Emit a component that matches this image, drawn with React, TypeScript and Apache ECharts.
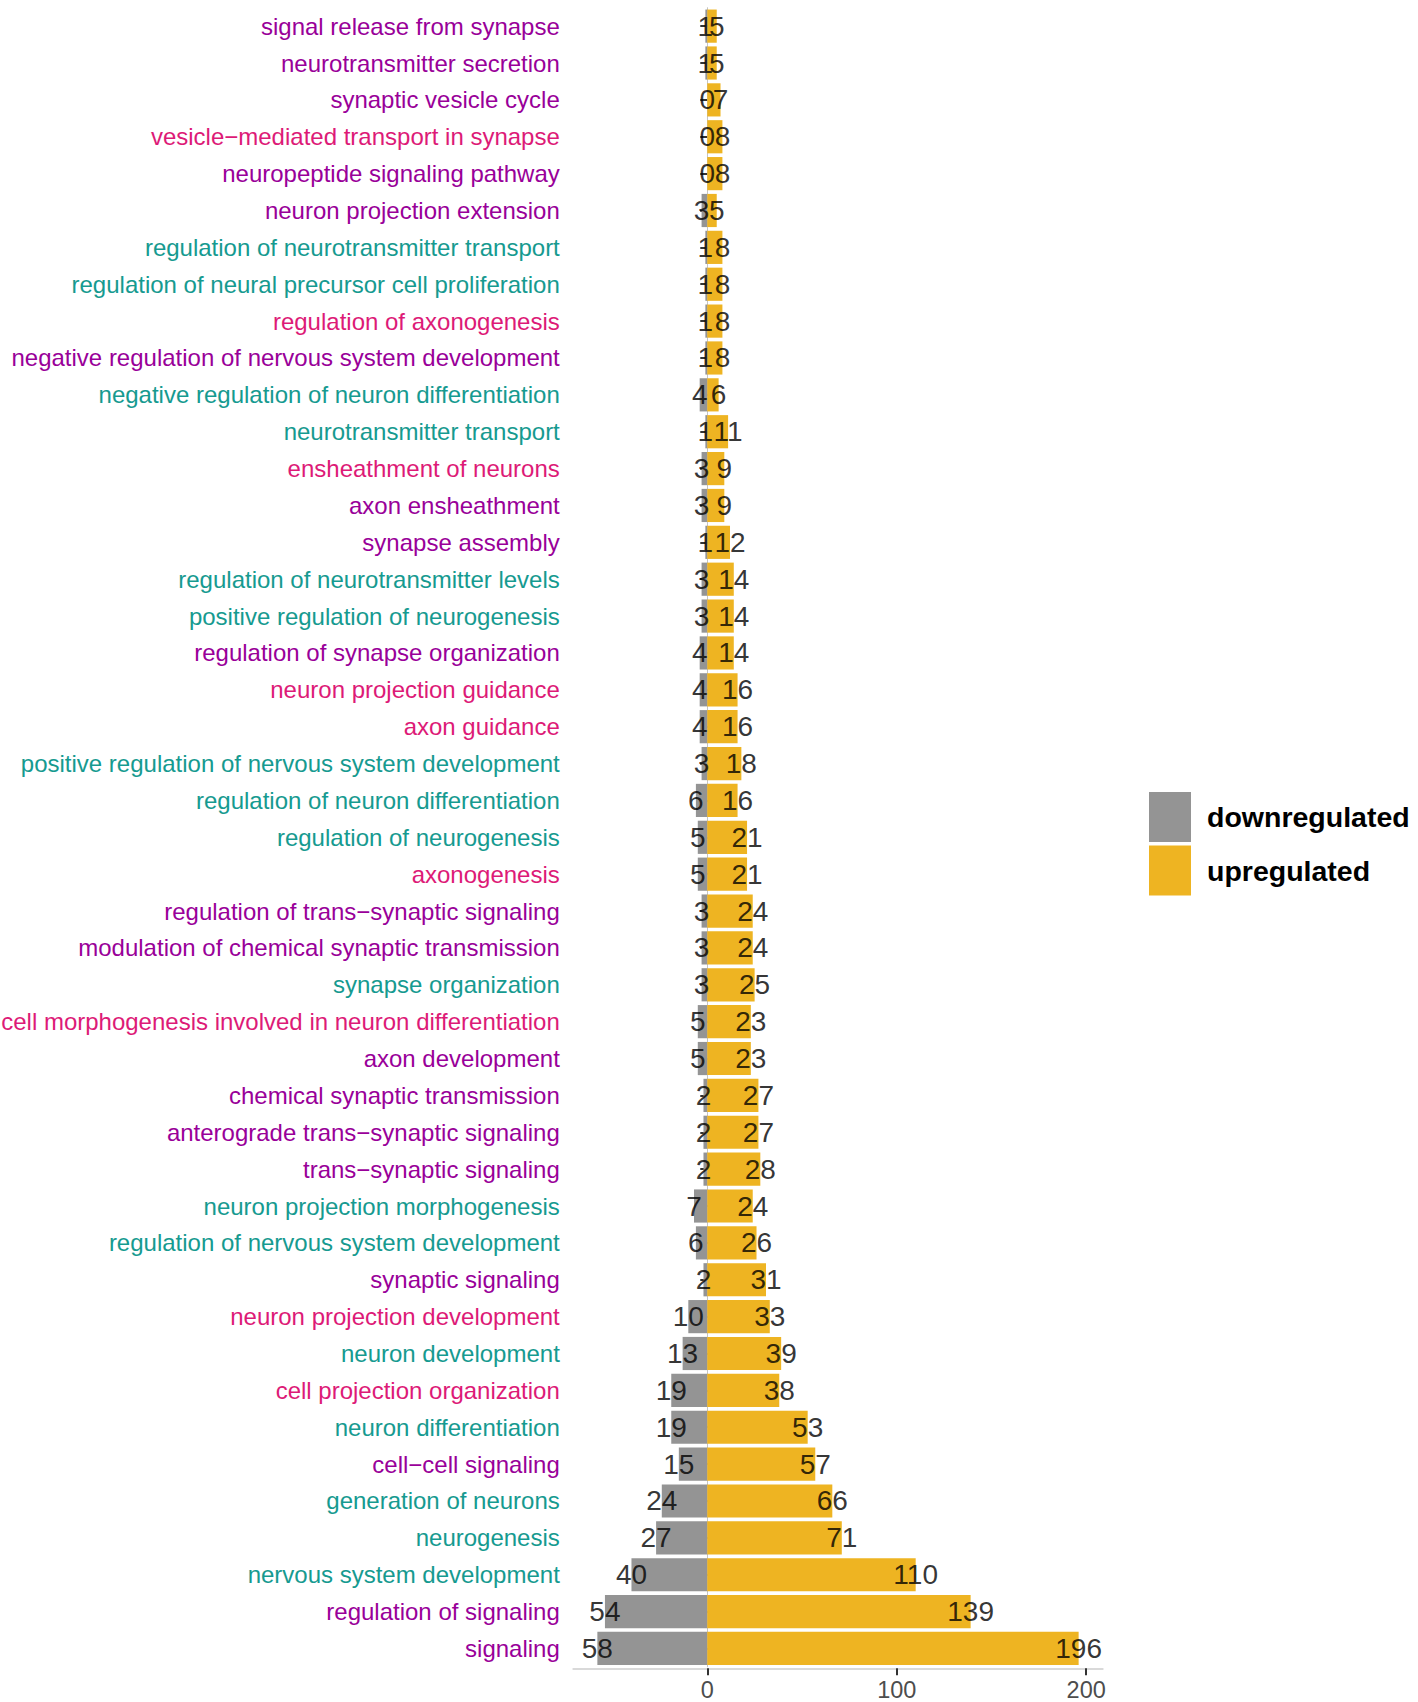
import React, { useEffect, useRef } from "react";
import * as echarts from "echarts";

const categories = [
  "signal release from synapse",
  "neurotransmitter secretion",
  "synaptic vesicle cycle",
  "vesicle−mediated transport in synapse",
  "neuropeptide signaling pathway",
  "neuron projection extension",
  "regulation of neurotransmitter transport",
  "regulation of neural precursor cell proliferation",
  "regulation of axonogenesis",
  "negative regulation of nervous system development",
  "negative regulation of neuron differentiation",
  "neurotransmitter transport",
  "ensheathment of neurons",
  "axon ensheathment",
  "synapse assembly",
  "regulation of neurotransmitter levels",
  "positive regulation of neurogenesis",
  "regulation of synapse organization",
  "neuron projection guidance",
  "axon guidance",
  "positive regulation of nervous system development",
  "regulation of neuron differentiation",
  "regulation of neurogenesis",
  "axonogenesis",
  "regulation of trans−synaptic signaling",
  "modulation of chemical synaptic transmission",
  "synapse organization",
  "cell morphogenesis involved in neuron differentiation",
  "axon development",
  "chemical synaptic transmission",
  "anterograde trans−synaptic signaling",
  "trans−synaptic signaling",
  "neuron projection morphogenesis",
  "regulation of nervous system development",
  "synaptic signaling",
  "neuron projection development",
  "neuron development",
  "cell projection organization",
  "neuron differentiation",
  "cell−cell signaling",
  "generation of neurons",
  "neurogenesis",
  "nervous system development",
  "regulation of signaling",
  "signaling",
];

const downregulated = [
  1, 1, 0, 0, 0, 3, 1, 1, 1, 1, 4, 1, 3, 3, 1, 3, 3, 4, 4, 4, 3, 6, 5, 5, 3, 3, 3,
  5, 5, 2, 2, 2, 7, 6, 2, 10, 13, 19, 19, 15, 24, 27, 40, 54, 58,
];

const upregulated = [
  5, 5, 7, 8, 8, 5, 8, 8, 8, 8, 6, 11, 9, 9, 12, 14, 14, 14, 16, 16, 18, 16, 21, 21,
  24, 24, 25, 23, 23, 27, 27, 28, 24, 26, 31, 33, 39, 38, 53, 57, 66, 71, 110, 139, 196,
];

// p = purple, t = teal, k = pink
const labelGroups = [
  "p", "p", "p", "k", "p", "p", "t", "t", "k", "p", "t", "t", "k", "p", "p", "t", "t",
  "p", "k", "k", "t", "t", "t", "k", "p", "p", "t", "k", "p", "p", "p", "p", "t", "t",
  "p", "k", "t", "k", "t", "p", "t", "t", "t", "p", "p",
];

const xTicks = [0, 100, 200];

const groupColors: Record<string, string> = {
  p: "#990099",
  t: "#169A90",
  k: "#DD1A77",
};

const SANS = "'Liberation Sans', Arial, sans-serif";

export default function App() {
  const ref = useRef<HTMLDivElement>(null);

  useEffect(() => {
    if (!ref.current) return;
    const chart = echarts.init(ref.current, null, { renderer: "svg" });
    const option: any = {
      animation: false,
      backgroundColor: "#ffffff",
      grid: {
        left: 573.3,
        right: 315.3,
        top: 7.7,
        bottom: 35.1,
        containLabel: false,
        outerBoundsMode: "none",
      },
      legend: {
        orient: "vertical",
        left: 1149,
        top: 792,
        padding: 0,
        itemWidth: 42,
        itemHeight: 50,
        itemGap: 3.5,
        icon: "rect",
        data: ["downregulated", "upregulated"],
        textStyle: {
          fontFamily: SANS,
          fontWeight: "bold",
          fontSize: 28.5,
          color: "#000000",
          padding: [0, 0, 0, 11],
        },
      },
      xAxis: {
        type: "value",
        min: -70.7,
        max: 208.7,
        offset: 1.4,
        axisLine: { show: true, lineStyle: { color: "#D9D9D9", width: 2 } },
        axisTick: {
          show: true,
          length: 7,
          customValues: xTicks,
          lineStyle: { color: "#333333", width: 2 },
        },
        axisLabel: {
          customValues: xTicks,
          color: "#4D4D4D",
          fontFamily: SANS,
          fontSize: 23.5,
          margin: 10,
        },
        splitLine: { show: false },
      },
      yAxis: {
        type: "category",
        inverse: true,
        data: categories,
        axisLine: { show: true, lineStyle: { color: "#C4C4C4", width: 1 } },
        axisTick: {
          show: true,
          alignWithLabel: true,
          interval: 0,
          length: 7,
          lineStyle: { color: "#333333", width: 2 },
        },
        axisLabel: {
          interval: 0,
          hideOverlap: false,
          margin: 13.5,
          fontFamily: SANS,
          fontSize: 24,
          color: (_v: string, i: number) => groupColors[labelGroups[i]],
        },
        splitLine: { show: false },
      },
      series: [
        {
          name: "downregulated",
          type: "bar",
          data: downregulated.map((v) => -v),
          itemStyle: { color: "#949494" },
          barGap: "-100%",
          barCategoryGap: "10%",
        },
        {
          name: "upregulated",
          type: "bar",
          data: upregulated,
          itemStyle: { color: "#EEB422" },
          barGap: "-100%",
          barCategoryGap: "10%",
        },
        {
          name: "downLabels",
          type: "scatter",
          z: 5,
          symbolSize: 0.01,
          itemStyle: { color: "transparent" },
          data: downregulated.map((v, i) => [-v, categories[i]]),
          label: {
            show: true,
            position: "inside",
            formatter: (p: any) => String(Math.abs(p.value[0])),
            fontFamily: SANS,
            fontSize: 28,
            color: "#000000",
            textBorderWidth: 0,
          },
          labelLayout: { hideOverlap: false },
        },
        {
          name: "upLabels",
          type: "scatter",
          z: 5,
          symbolSize: 0.01,
          itemStyle: { color: "transparent" },
          data: upregulated.map((v, i) => [v, categories[i]]),
          label: {
            show: true,
            position: "inside",
            formatter: (p: any) => String(p.value[0]),
            fontFamily: SANS,
            fontSize: 28,
            color: "#000000",
            textBorderWidth: 0,
          },
          labelLayout: { hideOverlap: false },
        },
      ],
    };
    chart.setOption(option);
    return () => chart.dispose();
  }, []);

  return (
    <div
      ref={ref}
      style={{ position: "fixed", left: 0, top: 0, width: 1418, height: 1702 }}
    />
  );
}
